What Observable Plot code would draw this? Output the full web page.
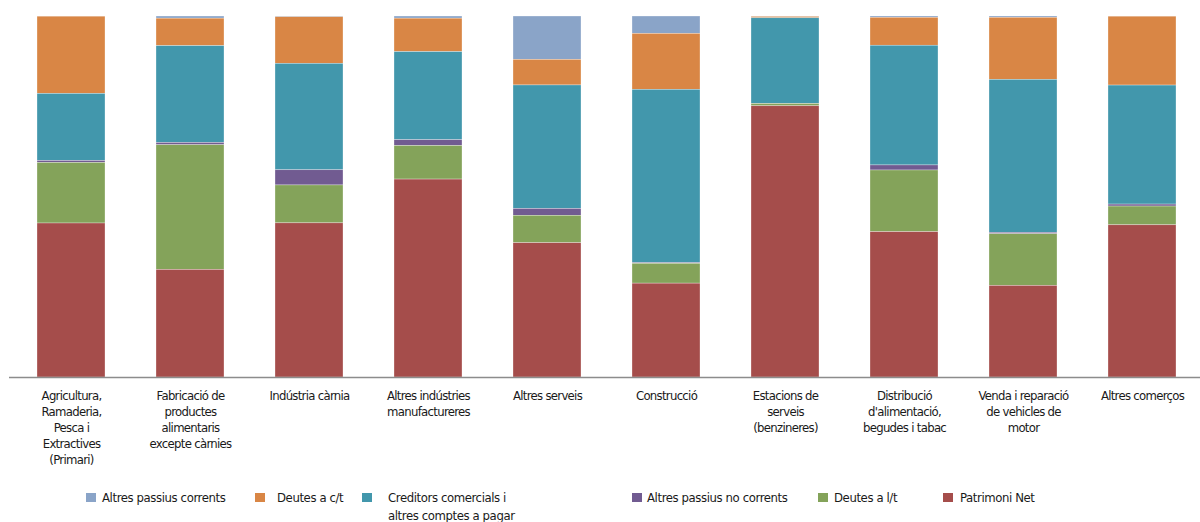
<!DOCTYPE html>
<html>
<head>
<meta charset="utf-8">
<script src="https://cdn.jsdelivr.net/npm/d3@7"></script>
<script src="https://cdn.jsdelivr.net/npm/@observablehq/plot@0.6"></script>
<style>
  html, body { margin: 0; padding: 0; background: #fff; }
  #chart { width: 1200px; }
  #chart svg text { letter-spacing: -0.7px; }
  .legend { position: relative; width: 1200px; height: 42px; font-family: "DejaVu Sans Condensed", "DejaVu Sans", sans-serif; font-stretch: condensed; font-size: 13px; color: #1a1a1a; }
  .legend .sw { position: absolute; top: 13px; width: 10px; height: 9px; }
  .legend .tx { position: absolute; top: 9px; line-height: 18px; letter-spacing: -0.4px; white-space: pre; }
</style>
</head>
<body>
<div id="chart"></div>
<script>
// Sectors (x categories) and their wrapped tick labels
const categories = [
  "Agricultura, Ramaderia, Pesca i Extractives (Primari)",
  "Fabricació de productes alimentaris excepte càrnies",
  "Indústria càrnia",
  "Altres indústries manufactureres",
  "Altres serveis",
  "Construcció",
  "Estacions de serveis (benzineres)",
  "Distribució d'alimentació, begudes i tabac",
  "Venda i reparació de vehicles de motor",
  "Altres comerços"
];
const tickLabels = [
  "Agricultura,\nRamaderia,\nPesca i\nExtractives\n(Primari)",
  "Fabricació de\nproductes\nalimentaris\nexcepte càrnies",
  "Indústria càrnia",
  "Altres indústries\nmanufactureres",
  "Altres serveis",
  "Construcció",
  "Estacions de\nserveis\n(benzineres)",
  "Distribució\nd'alimentació,\nbegudes i tabac",
  "Venda i reparació\nde vehicles de\nmotor",
  "Altres comerços"
];

// Liability structure series (legend order, top of stack first)
const seriesNames = [
  "Altres passius corrents",
  "Deutes a c/t",
  "Creditors comercials i altres comptes a pagar",
  "Altres passius no corrents",
  "Deutes a l/t",
  "Patrimoni Net"
];
const legendLabels = [
  "Altres passius corrents",
  "Deutes a c/t",
  "Creditors comercials i\naltres comptes a pagar",
  "Altres passius no corrents",
  "Deutes a l/t",
  "Patrimoni Net"
];
const seriesColors = ["#8aa4c8", "#d98645", "#4297ac", "#715b91", "#84a35a", "#a54d4b"];

// Share of total liabilities (%) per sector
const altresPassiusCorrents = [0.05, 0.6, 0.2, 0.6, 12.0, 4.8, 0.1, 0.35, 0.35, 0.05];
const deutesCT             = [21.4, 7.6, 12.9, 9.25, 7.1, 15.5, 0.4, 7.75, 17.2, 19.1];
const creditorsComercials  = [18.6, 26.8, 29.5, 24.4, 34.2, 48.0, 23.7, 33.2, 42.4, 33.0];
const altresNoCorrents     = [0.55, 0.65, 4.2, 1.6, 1.9, 0.2, 0.05, 1.4, 0.4, 0.55];
const deutesLT             = [16.8, 34.5, 10.5, 9.3, 7.6, 5.5, 0.65, 17.1, 14.3, 5.2];
const patrimoniNet         = [42.7, 29.8, 42.7, 54.8, 37.2, 26.0, 75.2, 40.3, 25.4, 42.2];

const seriesValues = [altresPassiusCorrents, deutesCT, creditorsComercials, altresNoCorrents, deutesLT, patrimoniNet];

const rows = seriesNames.flatMap((s, si) =>
  categories.map((c, ci) => ({sector: c, series: s, value: seriesValues[si][ci]}))
);

const labelOf = new Map(categories.map((c, i) => [c, tickLabels[i]]));
const stackOrder = seriesNames.slice().reverse(); // Patrimoni Net at the bottom

const chart = Plot.plot({
  width: 1200,
  height: 480,
  marginTop: 16,
  marginBottom: 103,
  marginLeft: 9,
  marginRight: 0,
  style: {fontFamily: "'DejaVu Sans Condensed', 'DejaVu Sans', sans-serif", fontStretch: "condensed", fontSize: "13px", color: "#1a1a1a"},
  x: {domain: categories, range: [9.3, 1203.7], paddingInner: 0.43, paddingOuter: 0.215, axis: null, label: null},
  y: {domain: [0, 1], axis: null},
  color: {domain: seriesNames, range: seriesColors},
  marks: [
    Plot.barY(rows, Plot.stackY({
      x: "sector",
      y: "value",
      fill: "series",
      order: stackOrder,
      offset: "normalize",
      stroke: "#fff",
      strokeWidth: 0.5,
      strokeOpacity: 0.6
    })),
    Plot.ruleY([0], {stroke: "#8c8c8c", strokeWidth: 1.5}),
    Plot.axisX({
      label: null,
      tickSize: 0,
      tickPadding: 11,
      lineHeight: 1.24,
      tickFormat: (d) => labelOf.get(d),
      fill: "#1a1a1a"
    })
  ]
});
document.getElementById("chart").appendChild(chart);

// Legend below the plot
const swatchX = [86, 255, 362, 632, 818, 943];
const textX = [102, 277, 388, 647, 834, 960];
const legend = document.createElement("div");
legend.className = "legend";
seriesNames.forEach((s, i) => {
  const sw = document.createElement("div");
  sw.className = "sw";
  sw.style.left = swatchX[i] + "px";
  sw.style.background = seriesColors[i];
  const tx = document.createElement("div");
  tx.className = "tx";
  tx.style.left = textX[i] + "px";
  tx.textContent = legendLabels[i];
  legend.appendChild(sw);
  legend.appendChild(tx);
});
document.body.appendChild(legend);
</script>
</body>
</html>
